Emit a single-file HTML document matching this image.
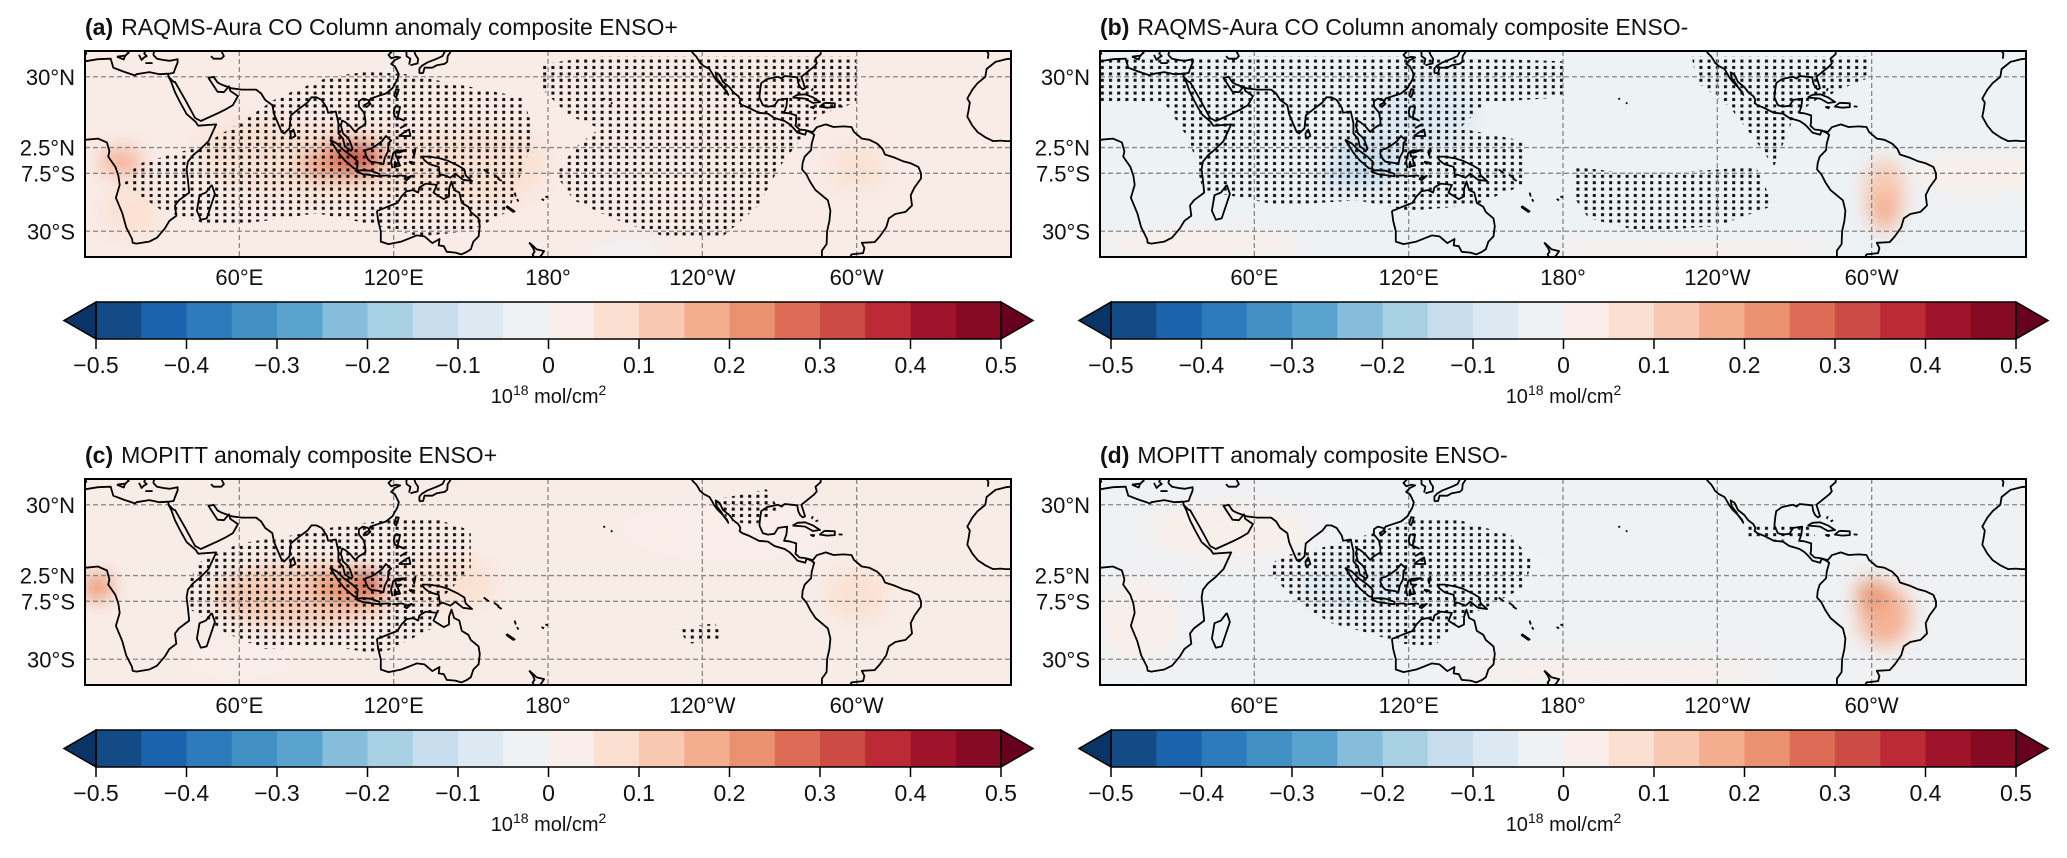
<!DOCTYPE html>
<html><head><meta charset="utf-8"><title>CO column anomaly composites</title>
<style>
html,body{margin:0;padding:0;background:#fff;}
svg text{font-family:"Liberation Sans",Arial,sans-serif;fill:#111;}
</style></head>
<body>
<svg id="fig" xmlns="http://www.w3.org/2000/svg" width="2067" height="853" viewBox="0 0 2067 853">
<defs>
<pattern id="dots" patternUnits="userSpaceOnUse" width="8.2" height="6.4"><rect x="2" y="2" width="3" height="3" fill="#111"/></pattern>
<filter id="blur8" x="-50%" y="-50%" width="200%" height="200%"><feGaussianBlur stdDeviation="9"/></filter>
</defs>
</svg>
<script>
// ---- colorbar data ----
const levelEdges = [-0.5,-0.45,-0.4,-0.35,-0.3,-0.25,-0.2,-0.15,-0.1,-0.05,0,0.05,0.1,0.15,0.2,0.25,0.3,0.35,0.4,0.45,0.5];
const levelColors = ["#134b87","#1b63ad","#2e7bbb","#4390c5","#5aa3cf","#86bddb","#a7d0e4","#c7ddee","#dde9f2","#eef2f5","#f9eee9","#fbe0d2","#f9c8b0","#f4ae8f","#ea926f","#dc6c55","#cc4c45","#bb2a35","#a0142b","#860a23"];
const tickValues = [-0.5,-0.4,-0.3,-0.2,-0.1,0,0.1,0.2,0.3,0.4,0.5];
const tickLabels = ["\u22120.5","\u22120.4","\u22120.3","\u22120.2","\u22120.1","0","0.1","0.2","0.3","0.4","0.5"];
const lonTicks = [60,120,180,240,300];
const lonLabels = ["60°E","120°E","180°","120°W","60°W"];
const latTicks = [30,2.5,-7.5,-30];
const latLabels = ["30°N","2.5°N","7.5°S","30°S"];
const panelTitles = ["(a)|RAQMS-Aura CO Column anomaly composite ENSO+","(b)|RAQMS-Aura CO Column anomaly composite ENSO-","(c)|MOPITT anomaly composite ENSO+","(d)|MOPITT anomaly composite ENSO-"];
const panelBase = ["#f9ebe6","#edf2f5","#f8ece7","#f0f1f3"];
// anomaly blobs: [lon, lat, lonRadius, latRadius, value]
const blobsA = [[95,-3,50,14,0.09],[150,-5,30,15,0.06],[100,-2,18,8,0.22],[105,-1,9,5,0.33],[14,-3,8,5,0.15],[300,-5,10,8,0.07],[70,5,25,8,0.07],[18,-22,10,10,0.06],[120,36,4,3,-0.04],[210,-38,15,4,-0.03]];
const blobsB = [[100,-3,18,10,-0.15],[125,15,20,15,-0.08],[70,0,25,8,-0.05],[305,-15,8,13,0.14],[305,-22,5,8,0.18],[40,-35,40,6,0.03],[230,-38,60,4,0.03],[340,-8,25,8,0.03]];
const blobsC = [[85,-5,35,12,0.10],[103,-2,14,7,0.2],[110,0,5,4,0.3],[5,-2,6,5,0.2],[140,0,20,10,0.06],[300,-5,12,10,0.05],[60,-30,20,6,0.04],[250,20,40,10,0.03]];
const blobsD = [[100,-2,22,9,-0.1],[150,5,30,12,-0.05],[305,-13,10,12,0.15],[300,-5,6,6,0.2],[15,-15,15,15,0.04],[200,-35,60,5,0.03],[50,20,30,10,0.02]];
// stipple regions (lon,lat polygons)
const stipA = [
 "20,-4 45,3 60,12 75,22 95,30 110,32 125,31 140,28 150,26 170,22 175,8 168,-12 165,-22 150,-30 130,-32 110,-27 90,-23 70,-26 50,-28 30,-22 15,-12",
 "178,35 200,38 240,38 275,38 300,38 300,20 285,15 280,8 270,-5 262,-20 248,-32 225,-32 205,-25 190,-18 183,-8 190,2 200,10 188,15 178,25"];
const stipB = [
 "0,37 60,38 120,38 180,36 180,22 150,20 140,10 165,5 165,-12 145,-20 120,-22 100,-18 70,-20 40,-14 35,5 25,20 0,20",
 "230,38 300,38 300,30 280,22 270,15 262,-5 255,5 245,18 232,28",
 "185,-5 210,-8 255,-5 262,-20 240,-28 210,-30 190,-25 183,-15"];
const stipC = [
 "45,8 60,15 80,18 100,22 118,24 135,25 150,20 150,5 140,-5 135,-18 115,-28 95,-25 70,-26 55,-20 40,-10 40,0",
 "245,32 265,36 270,28 260,22 250,24",
 "230,-18 245,-16 248,-22 235,-24"];
const stipD = [
 "70,10 85,13 110,20 125,25 140,24 160,18 168,8 165,-2 150,-10 140,-14 130,-25 118,-24 105,-20 90,-16 80,-10 72,-3 65,5",
 "250,22 275,22 278,18 265,16 252,17"];
// coastlines (lon,lat polylines, 0..360)
const coasts = [
 "0,5.5 5,6 8.5,4.5 9.5,1 9,-1 11.8,-5 13,-8.5 13.5,-12 12,-17 14.5,-23 16,-28.5 18.3,-33 18.5,-34.5 20,-34.8 25,-34 28,-32.5 31,-29 32.8,-26 35.5,-24 35,-20 36.5,-18 40.5,-15 40,-10 39.5,-6 40,-3 42,-0.5 45,2 48,5 51,11.5 44,11 43,12.5 39.5,15.5 37,20 35,24 33.5,28 32.5,30 32.3,31.2 29,31 25,31.8 20,31 19.5,30.5 15,32 11,33.5 10,37 5,36.8 0,36",
 "32.5,30 34.5,28 35,28 39,21 42.8,14 45,12.8 52,16 55,17.5 57.5,19 59.5,22.5 56.5,24.5 56,26.3 54,24 51.5,24.2 50,26.5 48,29.5 50,30 51.5,27.8 53,27 57,25.5 61,25 66.5,25 68.5,23.5 70,21 72.8,19 73.5,15.5 75,12 76.5,8.5 77.5,8 79.5,10 80,15 82.5,17 86.5,20 88,22 90,22 92,21 94,18 94.5,16 97.5,16.5 98.5,12 98.5,8 100.3,6 101,3 103.5,1.3 104,2 103,5 102,6.5 100.3,8 99.5,11 100,13 101,12.5 103,11 105,8.6 106.5,10 109,11.5 109,13 108.5,16 106.5,18.5 106.5,20.5 108,21.5 110,21 110.5,20.3 111,21.5 113,22.2 117,23.5 119.5,25.5 121.5,29 122,31 120.5,34 119,35 120.5,36.5 122.5,37.5 121,37.8 119,37.2 118,38.5 119.5,40",
 "26.5,38.5 28,37 30.5,36.5 33,36.2 36,36.8 36,35.5 35,33 34.5,31.5 32.3,31.1",
 "27,40 26.5,38.5", "49,38 50,37 53,37 54,38 53,40",
 "15.6,38 16.5,39 17,39.3 16.5,40", "12.4,37.8 15.6,38.2 15.1,36.7 12.4,37.8",
 "21,38.5 22,36.5 23,37.5 24,38 23,39 23.5,40", "23.5,35.3 26.3,35.3",
 "0,38.5 0.5,39 0,40",
 "80,6 81.8,7 81,9.5 79.9,8 80,6",
 "49.3,-12 50.5,-15.5 47.3,-25 45,-25.5 43.5,-22 44.5,-16 47,-15 49.3,-12",
 "95.3,5.6 98,4 100.5,1.5 104,-1 106,-3 105.8,-5.8 104.5,-5.5 101,-2.5 98.5,0.5 95.3,5.6",
 "105.5,-6.5 108,-6.3 111,-6.5 114.5,-7.7 114.5,-8.7 111,-8.2 108,-7.8 105.5,-6.8 105.5,-6.5",
 "115,-8.5 118,-8.3 119,-8.7", "119.5,-8.7 123,-8.3 124,-8.6", "124,-9.5 127,-8.5 125,-10.2 124,-9.5",
 "109,1.5 111,2 113,3.2 115.5,5 117,7 119,5.2 118,4.3 117.8,1 116.5,-1.5 116,-4 114.5,-3.5 111,-3 110,-2 109,0 109,1.5",
 "119.5,-5.5 119,-3 119.8,0.3 121,1.2 124.8,1.5 122,0.5 120.5,0.7 121,-1 123,-1 121.5,-2 122.5,-4.5 121,-4.8 120.5,-3 120.4,-5.5",
 "131,-1 134,-1 138,-1.7 141,-2.6 145,-4.5 147.5,-6 148,-8.3 150.5,-10.5 147,-10 144,-7.7 142,-9.2 139,-8 138,-8.5 137.5,-5 134,-4 132,-2.5 131,-1",
 "127.5,1 128.5,2 128,-0.5 127.5,1", "126,-3 128,-3.3 127,-3.8 126,-3",
 "120.5,18.5 122.5,18.3 122,16 121.5,14 124,13 123,13.5 120.5,14.5 120,16 120.5,18.5",
 "122,7 126.5,7 126,9.5 125,9 123.5,8 122,7", "122.5,10 124,11 125,11.5 123.5,10.5",
 "120.2,22.6 121,25.2 122,25 121,22 120.2,22.6",
 "108.6,19 110.5,20 111,19.5 109.5,18.2 108.6,19",
 "130,31.3 131.5,31.5 132,33.5 135,33.5 136.8,34.5 139.8,35 140.8,35.8 141,38 142,39.5 142,40",
 "140,40 139,38 136.8,37 133,35.5 131,34.3 130,33.2 130,31.3",
 "126.5,34.5 129.3,35.2 129.5,37 128.5,38.5 128,40", "126,34.7 126.5,37 125,38 125,39.6 124.5,40",
 "113.5,-22 114,-26 115,-30 115,-34 118,-35 123,-34 129,-31.6 132,-32 135,-34.6 137.8,-33 137.5,-35.5 139.5,-35.8 140.6,-38 144,-38.3 146.3,-39 148.5,-38 150,-37 151,-34 153,-32 153.5,-28 153,-25 150,-22.5 149,-20.5 146.5,-19 145.5,-15 143.5,-14 142.5,-10.7 141.5,-13.5 141.5,-16.5 139.5,-17.5 137,-16 135.5,-15 136.8,-12 132.5,-11.5 130,-13 129.5,-15 127.5,-14 125,-14.5 123,-16.5 121.5,-19 118,-20.3 114.5,-21.8 113.5,-22",
 "172.7,-34.4 174.5,-36 175.5,-37 178.5,-37.7 177.5,-39.2 176.8,-40", "174.5,-40 174,-39 174.8,-38 174.2,-36.5 172.7,-34.4",
 "164,-20.2 167,-22.3 166.5,-22.5 164,-20.7 164,-20.2",
 "155,-6 157,-7.5", "159,-8 161,-9.5", "160.5,-9.5 162,-10.5", "167,-15 167.5,-16.5", "168,-17.5 168.5,-18.5", "177.5,-17.5 178.5,-18", "179,-16.5 180,-16.8",
 "204.5,19.5 205,20", "201.5,21.3 202.2,21.6",
 "236,40 235.7,40 236.5,39 237.5,38 238.5,36.5 239,35.5 240.5,34.2 242.8,33 243.1,32.5 244,31 244.8,29.5 246,28 248,26 249.5,24 250.1,23 249.6,24.2 248,26 247.5,27 245.5,29.5 245.2,31.7 246.7,30.7 248,28 250.5,26 252,24 254,22.5 254.8,21 254.5,19.8 255.5,19 258,18 262,16 265.5,15.7 268,14 272,12.8 274,11.5 275.5,10 277,8.3 280,7.5 280.5,9 282,8.5 283.5,7.5 282.5,4 282.3,1.5 279.8,-1 279,-3.5 278.8,-6 280.5,-8 282,-11 284,-14 288.8,-18 289.8,-22 289.4,-26 288.5,-30 288.3,-35 286.5,-37.5 286.5,-40",
 "286,40 286,38.8 284,37 284.5,35.2 283.5,34 281,32 278.5,30 279.5,27 279.9,25.5 279,25.1 278,26 277.3,27.5 276.9,29.8 275,30 272,30.3 270.8,29.3 269.5,30 267,29.5 265,29 262.9,27.5 262.5,25 262.2,22 263.5,19 265.5,18.4 268,18.7 269.5,21 273,21.5 272.7,18.5 271.8,16 273.8,15.8 276.5,15 276.4,12 276.2,11 277.8,9.5 280,9.3 283,8.5 284.5,10.4 288,11.5 291,10.5 295,10.7 298,10.5 299,8.5 302,6 305,5.5 308,4 310,2 311,-0.2 315,-1.5 318,-2.8 321,-3.6 324,-5 325,-7.5 325,-9.5 322.5,-13 321,-16 321.5,-20 319,-22.5 315,-23.3 312.5,-25 311.5,-28.5 309,-32 307,-34.2 302,-34.5 303,-36.5 302.5,-38.5 298,-39 297.5,-40",
 "275.1,21.9 277,23 280,23.2 283,22 285.8,20.2 283,19.8 280,21.5 278,21.7 275.1,21.9",
 "287.5,19.9 291.5,19.7 291.5,18.2 288.5,18 285.7,18.4 287.5,19.9", "282,18.3 283.5,18.2 283.2,17.8 282,18.3", "293,18.5 294.5,18.4",
 "282.5,24.5 283,25.5", "284,23.5 285,24",
 "360,5 358,5 356,5.2 353,5 350,6.5 347,8.5 345,11 343,14.5 343.5,17 344,20 343,21.5 345,25 347,27.5 350,30 350.5,33 354,35.8 355,36 358,36.8 360,37",
 "351,37 351.2,39 350.5,40"
];

const SVGNS = "http://www.w3.org/2000/svg";
const fig = document.getElementById('fig');
function el(tag, attrs, parent){ const e=document.createElementNS(SVGNS,tag); for(const k in attrs) e.setAttribute(k,attrs[k]); (parent||fig).appendChild(e); return e; }

function colorFor(v){
  for(let i=0;i<levelColors.length;i++){ if(v<levelEdges[i+1]) return levelColors[i]; }
  return levelColors[levelColors.length-1];
}

const MAP_W=926, MAP_H=206;
const panels = [
  {x0:85,y0:51,blobs:blobsA,stip:stipA},
  {x0:1100,y0:51,blobs:blobsB,stip:stipB},
  {x0:85,y0:479,blobs:blobsC,stip:stipC},
  {x0:1100,y0:479,blobs:blobsD,stip:stipD}
];

panels.forEach((p,pi)=>{
  const xs = lon => p.x0 + lon*MAP_W/360;
  const ys = lat => p.y0 + (40-lat)*MAP_H/80;
  const g = el('g',{});
  
  
  const parts = panelTitles[pi].split('|');
  const t = el('text',{x:p.x0,y:p.y0-16,'font-size':23},g);
  
  
  const b = el('tspan',{'font-weight':'bold'},t); b.textContent=parts[0];
  const r = el('tspan',{dx:8},t); r.textContent=parts[1];
  const cid='clip'+pi;
  const cp = el('clipPath',{id:cid},g); el('rect',{x:p.x0,y:p.y0,width:MAP_W,height:MAP_H},cp);
  const inner = el('g',{'clip-path':'url(#'+cid+')'},g);
  const bg = el('rect',{x:p.x0,y:p.y0,width:MAP_W,height:MAP_H,fill:panelBase[pi]},inner);
  
  
  const fld = el('g',{filter:'url(#blur8)'},inner);
  p.blobs.forEach(bl=>{
    const e = el('ellipse',{cx:xs(bl[0]),cy:ys(bl[1]),rx:bl[2]*MAP_W/360,ry:bl[3]*MAP_H/80,fill:colorFor(bl[4]),opacity:0.95},fld);
    
    
  });
  p.stip.forEach(s=>{
    const pts = s.split(' ').map(q=>{const [lo,la]=q.split(',').map(Number); return xs(lo).toFixed(1)+','+ys(la).toFixed(1);}).join(' ');
    const sp = el('polygon',{points:pts,fill:'url(#dots)'},inner);
    
    
  });
  lonTicks.forEach(lo=>{
    const l=el('line',{x1:xs(lo),x2:xs(lo),y1:p.y0,y2:p.y0+MAP_H,stroke:'#888','stroke-width':1.3,'stroke-dasharray':'5,3'},inner);
    
    
  });
  latTicks.forEach(la=>{
    const l=el('line',{x1:p.x0,x2:p.x0+MAP_W,y1:ys(la),y2:ys(la),stroke:'#888','stroke-width':1.3,'stroke-dasharray':'5,3'},inner);
    
    
  });
  coasts.forEach(c=>{
    const pts = c.split(' ').map(q=>{const [lo,la]=q.split(',').map(Number); return xs(lo).toFixed(1)+','+ys(la).toFixed(1);}).join(' ');
    const pl = el('polyline',{points:pts,fill:'none',stroke:'#000','stroke-width':1.8,'stroke-linejoin':'round'},inner);
    
    
  });
  const fr = el('rect',{x:p.x0,y:p.y0,width:MAP_W,height:MAP_H,fill:'none',stroke:'#000','stroke-width':2},g);
  
  
  lonTicks.forEach((lo,i)=>{
    const tx=el('text',{x:xs(lo),y:p.y0+MAP_H+28,'font-size':22,'text-anchor':'middle'},g);
    
    
    tx.textContent=lonLabels[i];
  });
  latTicks.forEach((la,i)=>{
    const tx=el('text',{x:p.x0-10,y:ys(la)+8,'font-size':22,'text-anchor':'end'},g);
    
    
    tx.textContent=latLabels[i];
  });
  const cbx0 = p.x0+11, cbW = 905, cby = p.y0+251, cbH = 37;
  const cb = el('g',{},g);
  
  
  const cx = v => cbx0 + (v-levelEdges[0])/(levelEdges[levelEdges.length-1]-levelEdges[0])*cbW;
  levelColors.forEach((c,i)=>{
    const rr = el('rect',{x:cx(levelEdges[i]),y:cby,width:cx(levelEdges[i+1])-cx(levelEdges[i])+0.5,height:cbH,fill:c},cb);
    
    
  });
  const la = el('polygon',{points:`${cbx0},${cby} ${cbx0-32},${cby+cbH/2} ${cbx0},${cby+cbH}`,fill:'#0a3366',stroke:'#000','stroke-width':1.5},cb);
  
  
  const ra = el('polygon',{points:`${cbx0+cbW},${cby} ${cbx0+cbW+32},${cby+cbH/2} ${cbx0+cbW},${cby+cbH}`,fill:'#67001f',stroke:'#000','stroke-width':1.5},cb);
  
  
  el('rect',{x:cbx0,y:cby,width:cbW,height:cbH,fill:'none',stroke:'#000','stroke-width':1.5},cb);
  tickValues.forEach((v,i)=>{
    const tl=el('line',{x1:cx(v),x2:cx(v),y1:cby+cbH,y2:cby+cbH+10,stroke:'#000','stroke-width':1.5},cb);
    
    
    const tx=el('text',{x:cx(v),y:cby+cbH+34,'font-size':23,'text-anchor':'middle'},cb);
    
    
    tx.textContent=tickLabels[i];
  });
  const u = el('text',{x:cbx0+cbW/2,y:cby+cbH+64,'font-size':20,'text-anchor':'middle'},cb);
  
  
  const u1=el('tspan',{},u); u1.textContent='10';
  const u2=el('tspan',{dy:-8,'font-size':14},u); u2.textContent='18';
  const u3=el('tspan',{dy:8},u); u3.textContent=' mol/cm';
  const u4=el('tspan',{dy:-8,'font-size':14},u); u4.textContent='2';
});
</script>
</body></html>
